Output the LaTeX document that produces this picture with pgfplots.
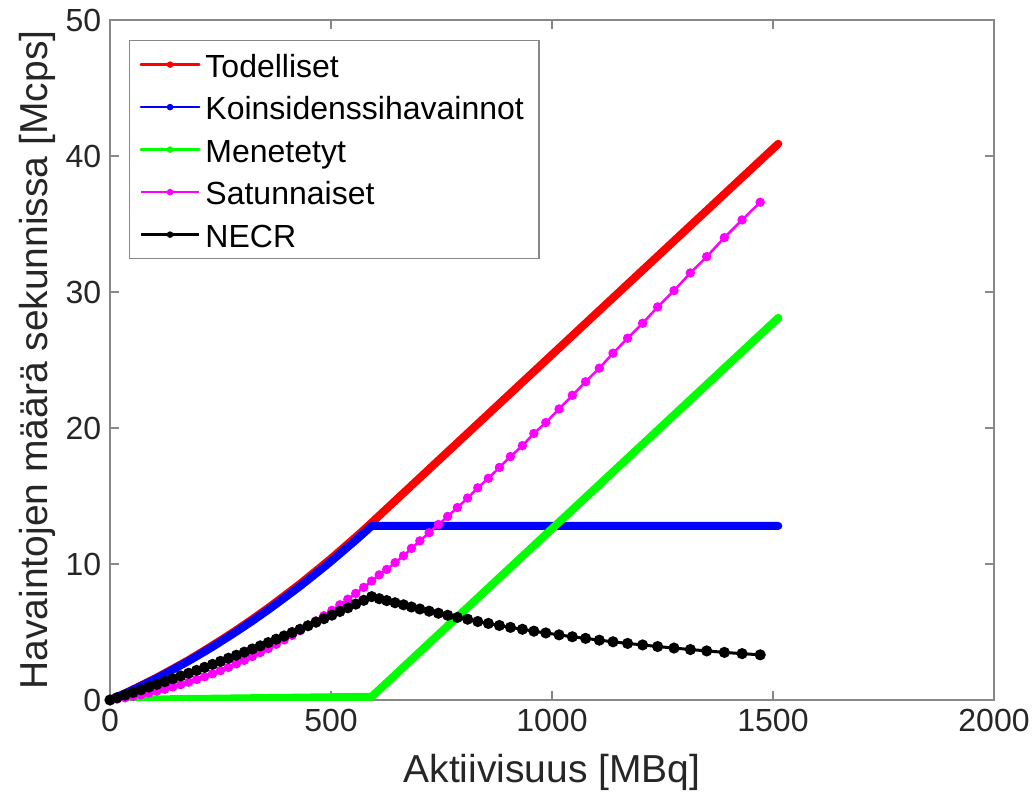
\documentclass[border=0pt]{standalone}
\usepackage{fontspec}
\setmainfont{Liberation Sans}
\usepackage{pgfplots}
\pgfplotsset{compat=1.18}
\definecolor{axgray}{HTML}{888888}
\definecolor{labgray}{HTML}{262626}
\definecolor{mred}{rgb}{1,0,0}
\definecolor{mblue}{rgb}{0,0,1}
\definecolor{mgreen}{rgb}{0,1,0}
\definecolor{mmag}{rgb}{1,0,1}
\begin{document}
\begin{tikzpicture}
\begin{axis}[
  scale only axis, width=353.6pt, height=272pt,
  xmin=0, xmax=2000, ymin=0, ymax=50,
  xtick={0,500,1000,1500,2000}, ytick={0,10,20,30,40,50},
  tick align=inside, major tick length=3.5pt,
  axis line style={draw=axgray, line width=0.5pt},
  tick style={draw=axgray, line width=0.5pt},
  /pgf/number format/assume math mode=true,
  /pgf/number format/set thousands separator={},
  tick label style={font=\fontsize{12.8}{15}\selectfont, text=labgray},
  xlabel={Aktiivisuus [MBq]},
  ylabel={Havaintojen määrä sekunnissa [Mcps]},
  label style={font=\fontsize{15.6}{18}\selectfont, text=labgray},
  xlabel style={at={(axis description cs:0.5,-0.106)}, anchor=center},
  ylabel style={at={(axis description cs:-0.082,0.5)}, anchor=center},
  legend cell align=left,
  legend style={at={(axis description cs:0.0215,0.9706)}, anchor=north west,
    draw=axgray, line width=0.5pt, fill=white,
    font=\fontsize{12.8}{15}\selectfont, text=black,
    inner xsep=4pt, inner ysep=1.6pt, row sep=1pt,
    nodes={inner sep=2pt, text height=11pt, text depth=1pt}},
  legend image code/.code={
    \draw[#1,line width=1pt,mark=none] (0cm,0cm) -- (0.82cm,0cm);
    \draw[#1,line width=0.4pt] plot[mark=*, mark size=1.1pt] coordinates {(0.41cm,0cm)};
  },
]
\addplot[color=mred, line width=3.2pt, line cap=round, line join=round] coordinates {
(0,0) (34,0.49) (70,1.06) (106,1.65) (142,2.29) (178,2.94) (214,3.65) (250,4.38)
(286,5.14) (322,5.94) (358,6.77) (394,7.65) (430,8.54) (466,9.49) (502,10.45)
(538,11.47) (574,12.50) (592,13.04) (1512,40.9)};
\addlegendentry{Todelliset}
\addplot[color=mblue, line width=3.2pt, line cap=round, line join=round] coordinates {
(0,0) (16,0.22) (34,0.48) (52,0.75) (70,1.03) (88,1.32) (106,1.61) (124,1.91)
(142,2.23) (160,2.55) (178,2.87) (196,3.21) (214,3.56) (232,3.91) (250,4.28)
(268,4.65) (286,5.03) (304,5.42) (322,5.81) (340,6.22) (358,6.63) (376,7.06)
(394,7.49) (412,7.93) (430,8.37) (448,8.83) (466,9.30) (484,9.77) (502,10.25)
(520,10.75) (538,11.25) (556,11.75) (574,12.27) (592,12.80) (1512,12.80)};
\addlegendentry{Koinsidenssihavainnot}
\addplot[color=mgreen, line width=3.2pt, line cap=round, line join=round] coordinates {
(0,0) (592,0.24) (1512,28.1)};
\addlegendentry{Menetetyt}
\addplot[color=mmag, line width=1pt, mark=*, mark size=1.35pt, mark options={solid}] coordinates {
(0,0) (16,0.07) (34,0.16) (52,0.27) (70,0.38) (88,0.51) (106,0.65) (124,0.79)
(142,0.96) (160,1.13) (178,1.31) (196,1.51) (214,1.71) (232,1.93) (250,2.16)
(268,2.40) (286,2.66) (304,2.92) (322,3.20) (340,3.49) (358,3.78) (376,4.10)
(394,4.42) (412,4.75) (430,5.10) (448,5.45) (466,5.82) (484,6.20) (502,6.59)
(520,7.00) (538,7.41) (556,7.84) (574,8.28) (592,8.75) (609,9.2) (626,9.6)
(645,10.1) (664,10.6) (682,11.15) (701,11.7) (722,12.3) (743,12.9) (764,13.5)
(786,14.15) (809,14.85) (832,15.6) (856,16.3) (881,17.1) (906,17.9) (933,18.7)
(959,19.6) (986,20.4) (1016,21.4) (1046,22.4) (1076,23.4) (1107,24.4) (1138,25.5)
(1171,26.6) (1205,27.7) (1239,28.9) (1276,30.1) (1313,31.4) (1350,32.6)
(1390,34.0) (1430,35.3) (1471,36.6)};
\addlegendentry{Satunnaiset}
\addplot[color=black, line width=1.2pt, mark=*, mark size=1.6pt, mark options={solid}] coordinates {
(0,0) (16,0.17) (34,0.36) (52,0.55) (70,0.75) (88,0.95) (106,1.15) (124,1.35)
(142,1.56) (160,1.77) (178,1.97) (196,2.18) (214,2.40) (232,2.62) (250,2.84)
(268,3.07) (286,3.29) (304,3.52) (322,3.75) (340,3.98) (358,4.22) (376,4.47)
(394,4.71) (412,4.96) (430,5.20) (448,5.46) (466,5.72) (484,5.98) (502,6.24)
(520,6.51) (538,6.78) (556,7.05) (574,7.33) (592,7.60) (609,7.45) (626,7.31)
(645,7.15) (664,7.00) (682,6.84) (701,6.69) (722,6.53) (743,6.38) (764,6.23)
(786,6.07) (809,5.94) (832,5.77) (856,5.63) (881,5.48) (906,5.34) (933,5.20)
(959,5.06) (986,4.93) (1016,4.79) (1046,4.65) (1076,4.53) (1107,4.40) (1138,4.28)
(1171,4.16) (1205,4.05) (1239,3.93) (1276,3.82) (1313,3.71) (1350,3.61)
(1390,3.50) (1430,3.41) (1471,3.32)};
\addlegendentry{NECR}
\end{axis}
\pgfresetboundingbox
\path ([shift={(-44pt,-43.6pt)}]current axis.south west) rectangle ([shift={(16.8pt,8pt)}]current axis.north east);
\end{tikzpicture}
\end{document}
